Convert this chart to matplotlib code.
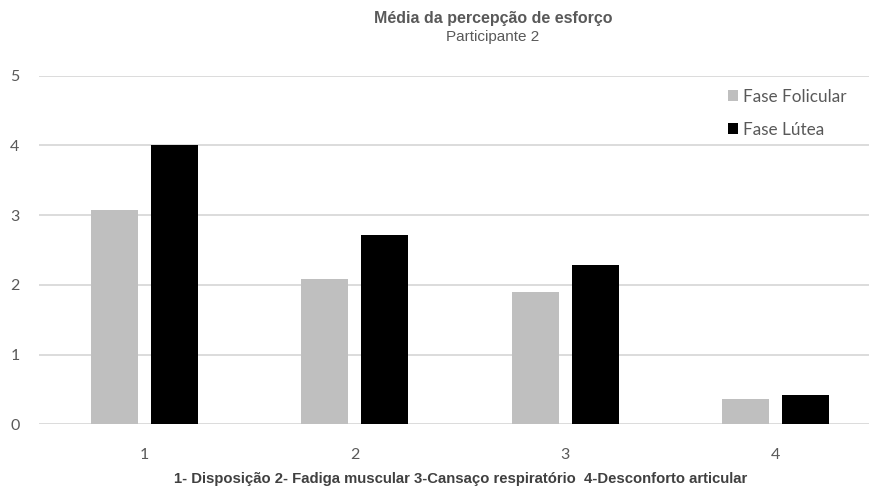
import numpy as np
import matplotlib.pyplot as plt

# =============================
# DADOS
# =============================
categorias = ["1", "2", "3", "4"]
folicular = [3.08, 2.08, 1.90, 0.36]
lutea = [4.00, 2.72, 2.29, 0.42]
serie_nomes = ["Fase Folicular", "Fase Lútea"]

titulo = "Média da percepção de esforço"
subtitulo = "Participante 2"
legenda_x = "1- Disposição 2- Fadiga muscular 3-Cansaço respiratório  4-Desconforto articular"

NARROW = ["Liberation Sans Narrow", "Liberation Sans", "DejaVu Sans"]
TICKF = ["Lato", "DejaVu Sans"]

# =============================
# FIGURA
# =============================
fig = plt.figure(figsize=(8.7, 4.91), dpi=100)
ax = fig.add_axes([39 / 870, 66.7 / 491, 842 / 870, 348.6 / 491])

x = np.arange(1, len(categorias) + 1)
w = 0.223
off = 0.142

ax.bar(x - off, folicular, width=w, color="#bfbfbf", label=serie_nomes[0], zorder=3)
ax.bar(x + off, lutea, width=w, color="#000000", label=serie_nomes[1], zorder=3)

ax.set_xlim(0.5, 4.5)
ax.set_ylim(0, 5)
ax.set_yticks(range(0, 6))
ax.set_xticks(x)
ax.set_xticklabels(categorias)

ax.grid(axis="y", color="#d9d9d9", linewidth=1.3, zorder=0)
for s in ax.spines.values():
    s.set_visible(False)
ax.tick_params(length=0, colors="#595959", labelsize=11.5)
ax.tick_params(axis="y", pad=14)
ax.tick_params(axis="x", pad=17)
for lab in ax.get_xticklabels() + ax.get_yticklabels():
    lab.set_family(TICKF)

leg = ax.legend(loc="upper left", bbox_to_anchor=(0.80, 1.007), frameon=False,
                prop={"family": TICKF, "size": 12.3}, handlelength=0.6,
                handleheight=0.6, handletextpad=0.3, labelspacing=1.0)
for t in leg.get_texts():
    t.set_color("#595959")

fig.text(493 / 870, 1 - 18 / 491, titulo, ha="center", va="center",
         fontsize=11.5, fontweight="bold", color="#595959", family=NARROW)
fig.text(493 / 870, 1 - 37 / 491, subtitulo, ha="center", va="center",
         fontsize=11, color="#595959", family=NARROW)
fig.text(461 / 870, 1 - 479 / 491, legenda_x, ha="center", va="center",
         fontsize=10.7, fontweight="bold", color="#404040", family=NARROW)

fig.savefig("out.png", dpi=100)
